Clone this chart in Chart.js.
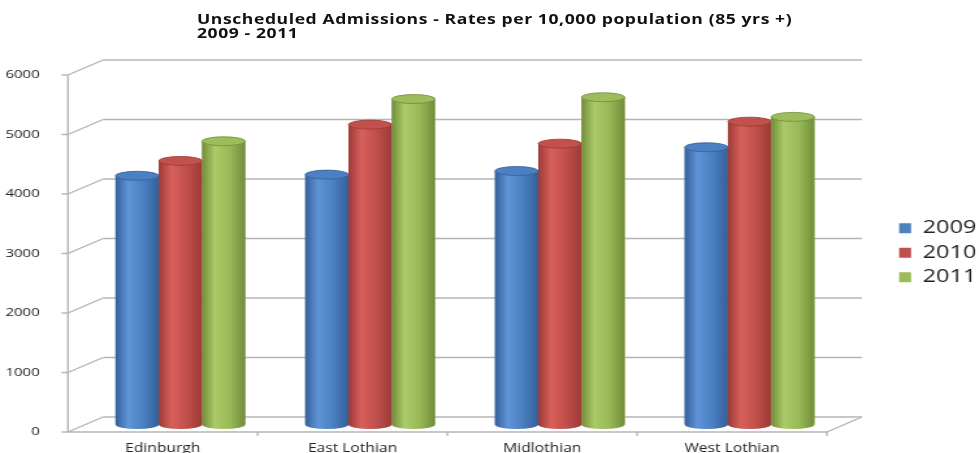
<!DOCTYPE html>
<html>
<head>
<meta charset="utf-8">
<script src="https://cdn.jsdelivr.net/npm/chart.js@4"></script>
<style>
  html, body { margin: 0; padding: 0; background: #fff; overflow: hidden; }
  /* the reference picture is stretched sideways, so the whole chart is too */
  #wrap { position: absolute; left: 0; top: 0; width: 753px; height: 453px; transform: scaleX(1.3); transform-origin: 0 0; }
  #chart { position: absolute; left: 0; top: 0; width: 753px; height: 453px; }
  #title { position: absolute; left: 151.5px; top: 13px; font: bold 13.5px/13.5px "Open Sans"; letter-spacing: 0.45px; color: #111; white-space: nowrap; }
</style>
</head>
<body>
<div id="wrap">
  <canvas id="chart" width="753" height="453"></canvas>
  <div id="title">Unscheduled Admissions - Rates per 10,000 population (85 yrs +)<br>2009 - 2011</div>
</div>
<script>
// ---------------------------------------------------------------
//  data
// ---------------------------------------------------------------
const categories = ['Edinburgh', 'East Lothian', 'Midlothian', 'West Lothian'];
const years = ['2009', '2010', '2011'];
const rates2009 = [4180, 4200, 4260, 4660];
const rates2010 = [4430, 5040, 4720, 5090];
const rates2011 = [4760, 5470, 5500, 5170];
const yMax = 6000, yStep = 1000;

// base colour + cylinder shading (edge, highlight, middle, top cap)
const colors = ['#4f81bd', '#c0504d', '#9bbb59'];
const shades = [
  { edge: '#35609a', light: '#5f95d8', mid: '#4a7fc0', top: '#4b80c2' },
  { edge: '#9c3a37', light: '#d8605b', mid: '#c04f4b', top: '#c2504c' },
  { edge: '#728c3b', light: '#abcb68', mid: '#98b957', top: '#9cbe5a' }
];

// depth of the fake 3d box (half, in canvas px)
const DX = 13.5, DY = 7.5;
// legend nudge after layout
const LEG_DX = 35.6, LEG_DY = -7.5;

// ---------------------------------------------------------------
//  plugins: 3d walls + cylinders
// ---------------------------------------------------------------
function line(ctx, x1, y1, x2, y2) {
  ctx.beginPath(); ctx.moveTo(x1, y1); ctx.lineTo(x2, y2); ctx.stroke();
}

const frame3d = {
  id: 'frame3d',
  beforeDatasetsDraw(chart) {
    const { ctx, chartArea: a, scales: { x, y } } = chart;
    const fl = a.left - DX, bl = a.left + DX, fr = a.right - DX, br = a.right + DX;
    ctx.save();
    ctx.strokeStyle = '#b4b4b4';
    ctx.lineWidth = 1.4;
    y.ticks.forEach(t => {
      const py = y.getPixelForValue(t.value);
      line(ctx, fl, py + DY, bl, py - DY);
      line(ctx, bl, py - DY, br, py - DY);
      line(ctx, fl - 5, py + DY, fl, py + DY);
    });
    const y0 = y.getPixelForValue(0);
    line(ctx, fl, y.getPixelForValue(yMax) + DY, fl, y0 + DY);
    line(ctx, fl, y0 + DY, fr, y0 + DY);
    line(ctx, fr, y0 + DY, br, y0 - DY);
    for (let i = 0; i < categories.length; i++) {
      const xb = i < categories.length - 1
        ? (x.getPixelForValue(i) + x.getPixelForValue(i + 1)) / 2 - DX
        : fr;
      line(ctx, xb, y0 + DY, xb, y0 + DY + 4);
    }
    ctx.restore();
  }
};

const cylinders = {
  id: 'cylinders',
  afterDatasetsDraw(chart) {
    const ctx = chart.ctx;
    chart.data.datasets.forEach((ds, di) => {
      const meta = chart.getDatasetMeta(di);
      if (meta.hidden) return;
      const s = shades[di];
      meta.data.forEach(el => {
        const { x, y, base, width } = el.getProps(['x', 'y', 'base', 'width'], true);
        const rx = width / 2, ry = 4.5;
        const g = ctx.createLinearGradient(x - rx, 0, x + rx, 0);
        g.addColorStop(0, s.edge);
        g.addColorStop(0.3, s.light);
        g.addColorStop(0.65, s.mid);
        g.addColorStop(1, s.edge);
        ctx.save();
        ctx.fillStyle = g;
        ctx.beginPath();
        ctx.moveTo(x - rx, y);
        ctx.lineTo(x - rx, base);
        ctx.ellipse(x, base, rx, ry, 0, Math.PI, 0, true);
        ctx.lineTo(x + rx, y);
        ctx.closePath();
        ctx.fill();
        ctx.beginPath();
        ctx.ellipse(x, y, rx, ry, 0, 0, Math.PI * 2);
        ctx.fillStyle = s.top;
        ctx.fill();
        ctx.strokeStyle = s.edge;
        ctx.lineWidth = 0.8;
        ctx.stroke();
        ctx.restore();
      });
    });
  }
};

// legend sits further right / higher than chart.js would put it
const legendNudge = {
  id: 'legendNudge',
  afterLayout(chart) {
    const lg = chart.legend;
    lg.left += LEG_DX; lg.right += LEG_DX;
    lg.top += LEG_DY; lg.bottom += LEG_DY;
  }
};

// ---------------------------------------------------------------
//  chart
// ---------------------------------------------------------------
const chart = new Chart(document.getElementById('chart'), {
  type: 'bar',
  data: {
    labels: categories,
    datasets: [
      { label: years[0], data: rates2009, backgroundColor: colors[0] },
      { label: years[1], data: rates2010, backgroundColor: colors[1] },
      { label: years[2], data: rates2011, backgroundColor: colors[2] }
    ]
  },
  options: {
    responsive: false, animation: false, devicePixelRatio: 1,
    layout: { padding: { top: 67.5, right: 27.6, left: 0, bottom: 0 } },
    datasets: { bar: { categoryPercentage: 0.684, barPercentage: 1.0 } },
    scales: {
      x: {
        grid: { display: false }, border: { display: false },
        ticks: { color: '#222', font: { family: 'Open Sans', size: 12 }, padding: 9, labelOffset: -DX },
        afterFit: axis => { axis.height = 28.5; axis.paddingLeft = 0; axis.paddingRight = 0; }
      },
      y: {
        min: 0, max: yMax,
        grid: { display: false }, border: { display: false },
        ticks: {
          stepSize: yStep, color: '#222', font: { family: 'Open Sans', size: 11.5 }, padding: 27.3, labelOffset: DY,
          callback: v => String(v)
        },
        afterFit: axis => { axis.width = 65.8; axis.paddingTop = 0; axis.paddingBottom = 0; }
      }
    },
    plugins: {
      legend: {
        position: 'right',
        labels: { boxWidth: 9.2, boxHeight: 10, padding: 6.5, color: '#222', font: { family: 'Open Sans', size: 18 } }
      },
      tooltip: { enabled: false }
    }
  },
  plugins: [frame3d, cylinders, legendNudge]
});
</script>
</body>
</html>
